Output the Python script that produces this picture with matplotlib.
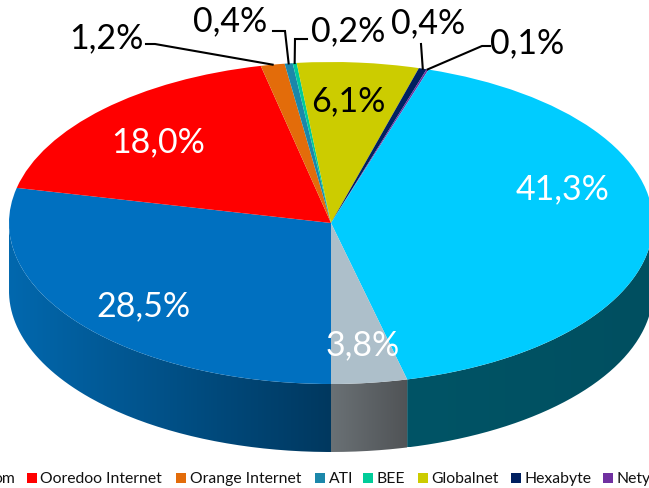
import numpy as np
import matplotlib.pyplot as plt
from matplotlib.colors import LinearSegmentedColormap
from matplotlib.patches import PathPatch, Rectangle
from matplotlib.path import Path

plt.rcParams['font.family'] = ['Lato', 'DejaVu Sans']

# Values in clockwise order, starting from the bottom of the pie
values = [28.5, 18.0, 1.2, 0.4, 0.2, 6.1, 0.4, 0.1, 41.3, 3.8]
colors = ['#0070c0', '#ff0000', '#e36c0a', '#1b87aa', '#00cc99',
          '#cccc00', '#002060', '#7030a0', '#00ccff', '#adbfca']

legend_labels = ['om', 'Ooredoo Internet', 'Orange Internet', 'ATI', 'BEE',
                 'Globalnet', 'Hexabyte', 'Nety']
legend_colors = ['#0070c0', '#ff0000', '#e36c0a', '#1b87aa', '#00cc99',
                 '#cccc00', '#002060', '#7030a0']

# pixel geometry of the ellipse
W, H = 649, 489
CX, CY, RX, RY = 331, 224, 322, 161
DEPTH = 68 / RY


def px(x, y):
    return (x - CX) / RX, (CY - y) / RY


fig = plt.figure(figsize=(W / 100, H / 100), dpi=100)
ax = fig.add_axes([0, 0, 1, 1])

wedges, _ = ax.pie(values, colors=colors, startangle=270, counterclock=False,
                   radius=1, wedgeprops={'linewidth': 0})

edges = np.concatenate([[0], np.cumsum(values)]) / sum(values) * 360 + 180


def side_path(a0, a1):
    t = np.radians(np.linspace(a0, a1, 120))
    x, y = np.sin(t), np.cos(t)
    xs = np.concatenate([x, x[::-1], x[:1]])
    ys = np.concatenate([y, y[::-1] - DEPTH, y[:1]])
    return Path(np.column_stack([xs, ys]))


# side wall: only the parts facing the viewer, colours run left to right
walls = [(180, 270, '#0268ae', '#00385f'),
         (90, edges[9] % 360, '#005466', '#004f60'),
         (edges[9] % 360, 180, '#6a7175', '#505356')]
for a0, a1, left, right in walls:
    path = side_path(a0, a1)
    patch = PathPatch(path, fc='none', ec='none')
    ax.add_patch(patch)
    xmin, ymin = path.vertices.min(axis=0)
    xmax, ymax = path.vertices.max(axis=0)
    cmap = LinearSegmentedColormap.from_list('side', [left, right])
    im = ax.imshow(np.linspace(0, 1, 256).reshape(1, -1), cmap=cmap, aspect='auto',
                   extent=(xmin, xmax, ymin, ymax), zorder=0.5)
    im.set_clip_path(patch)

ax.set_aspect('auto')
ax.set_xlim(px(0, 0)[0], px(W, 0)[0])
ax.set_ylim(px(0, H)[1], px(0, 0)[1])
ax.axis('off')


def pct(v):
    return f'{v:.1f}%'.replace('.', ',')


def mid_point(i):
    a = np.radians((edges[i] + edges[i + 1]) / 2)
    return np.sin(a), np.cos(a)


# label centres in pixels
label_pos = [(143, 306), (158, 142), (106, 38), (230, 21), (348, 31),
             (348, 101), (428, 23), (527, 43), (563, 189), (363, 345)]
label_col = ['white', 'white', 'black', 'black', 'black',
             'black', 'black', 'black', 'white', 'white']
for v, p, c in zip(values, label_pos, label_col):
    ax.text(*px(*p), pct(v), color=c, fontsize=24.5, ha='center', va='center')

# leader lines, bent points in pixels
leaders = {2: [(146, 45), (155, 45)],
           3: [(273, 32), (285, 32)],
           4: [(307, 40), (295, 40)],
           6: [(421, 45)],
           7: [(490, 47), (482, 47)]}
for i, pts in leaders.items():
    xy = [px(*p) for p in pts] + [mid_point(i)]
    ax.plot(*zip(*xy), color='black', lw=1.5, solid_joinstyle='miter')

# legend is cut by the picture edges, so it is placed by hand
swatch_x = [-30, 27, 176, 315, 363, 418, 511, 603]
for x, name, c in zip(swatch_x, legend_labels, legend_colors):
    fig.add_artist(Rectangle((x / W, 1 - 484 / H), 10 / W, 10 / H, fc=c, ec='none',
                             transform=fig.transFigure))
    text_x = -6.5 if name == 'om' else x + 13.5
    fig.text(text_x / W, 1 - 479 / H, name, fontsize=11.3, va='center', color='#111111')

fig.savefig('out.png', dpi=100)
